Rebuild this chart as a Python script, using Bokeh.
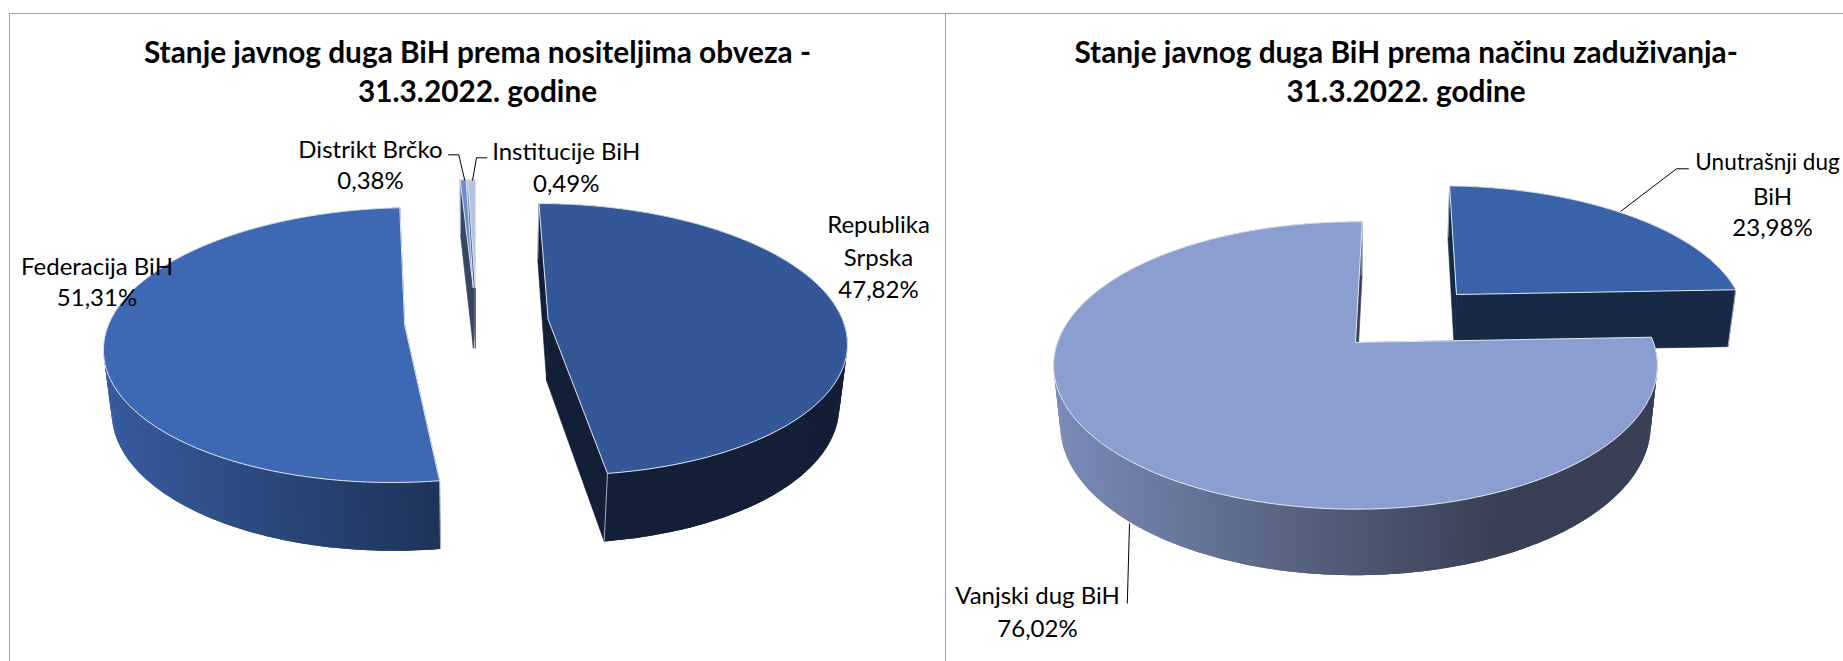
import math
from bokeh.plotting import figure
from bokeh.models import Range1d
from bokeh.core.properties import value
from bokeh.embed import file_html
from bokeh.resources import INLINE

# ---- data ----
title_left = ["Stanje javnog duga BiH prema nositeljima obveza -", "31.3.2022. godine"]
title_right = ["Stanje javnog duga BiH prema načinu zaduživanja-", "31.3.2022. godine"]
left_names = ["Republika Srpska", "Federacija BiH", "Distrikt Brčko", "Institucije BiH"]
left_values = [47.82, 51.31, 0.38, 0.49]
right_names = ["Unutrašnji dug BiH", "Vanjski dug BiH"]
right_values = [23.98, 76.02]

# ---- styles / layout ----
FONT = "Lato"
W, H = 1843, 661
left_colors = ["#345797", "#3e68b3", "#6d8cc9", "#b3c1e4"]
right_colors = ["#3a62a8", "#8c9ed0"]
left_explode = [0.244, 0.244, 0.26, 0.26]
right_explode = [0.51, 0.0]
# wall shading stops per slice: (x pixel, shade)
left_shade = [[(0, 0.36), (2000, 0.36)], [(109, 0.88), (438, 0.50)], [(0, 0.5), (2000, 0.5)], [(0, 0.5), (2000, 0.5)]]
right_shade = [[(0, 0.42), (2000, 0.42)], [(1056, 0.88), (1500, 0.41), (1653, 0.41)]]
left_cam = dict(cx=476, cy=321, b=295, a=133.5, k=0.148, m=0.022, D=63, rot=0.0)
right_cam = dict(cx=1355, cy=342, b=298, a=140, k=0.16, m=0.022, D=60.6, rot=1.5)

p = figure(width=W, height=H, output_backend="svg", toolbar_location=None,
           x_range=Range1d(0, W), y_range=Range1d(H, 0), min_border=0)
p.axis.visible = False
p.grid.visible = False
p.outline_line_color = None
p.background_fill_color = "#ffffff"


def shade_hex(color, s):
    r, g, b = int(color[1:3], 16), int(color[3:5], 16), int(color[5:7], 16)
    return "#%02x%02x%02x" % (int(r * s), int(g * s), int(b * s))


def shade_at(stops, x):
    if x <= stops[0][0]:
        return stops[0][1]
    for (x0, s0), (x1, s1) in zip(stops, stops[1:]):
        if x <= x1:
            return s0 + (s1 - s0) * (x - x0) / (x1 - x0)
    return stops[-1][1]


def draw_pie(values, colors, explode, shades, cam, order):
    def proj(X, V, Z=0.0):
        w = 1 + cam["k"] * V + cam["m"] * Z
        return cam["cx"] + cam["b"] * X / w, cam["cy"] - cam["a"] * V / w + cam["D"] * Z / w

    total = sum(values)
    starts, c = [], 0.0
    for v in values:
        starts.append(c)
        c += v
    for i in order:
        t0 = math.radians(starts[i] * 360 / total + cam["rot"])
        t1 = math.radians((starts[i] + values[i]) * 360 / total + cam["rot"])
        mid = (t0 + t1) / 2
        X0, V0 = explode[i] * math.sin(mid), explode[i] * math.cos(mid)
        n = max(3, int(math.degrees(t1 - t0)))
        ts = [t0 + (t1 - t0) * j / n for j in range(n + 1)]
        arc = [(X0 + math.sin(t), V0 + math.cos(t)) for t in ts]
        col = colors[i]

        # radial faces
        ax, ay = proj(X0, V0)
        bx, by = proj(X0, V0, 1)
        for (X, V) in (arc[0], arc[-1]):
            ex, ey = proj(X, V)
            fx, fy = proj(X, V, 1)
            s = shades[i][-1][1]
            c2 = shade_hex(col, s)
            p.patch([ax, ex, fx, bx], [ay, ey, fy, by], fill_color=c2, line_color=c2, line_width=0.6)
        # outer wall with shading; each quad overlaps the next to hide seams
        xs, ys, fc = [], [], []
        for j in range(len(arc) - 1):
            A = arc[j]
            B = arc[min(j + 2, len(arc) - 1)]
            C = arc[j + 1]
            x1, y1 = proj(*A)
            x2, y2 = proj(*C)
            bx2, by2 = proj(*B)
            x3, y3 = proj(*B, 1)
            xm, ym = proj(*C, 1)
            x4, y4 = proj(*A, 1)
            xs.append([x1, x2, bx2, x3, xm, x4])
            ys.append([y1, y2, by2, y3, ym, y4])
            fc.append(shade_hex(col, shade_at(shades[i], (x1 + x2) / 2)))
        p.patches(xs, ys, fill_color=fc, line_color=None)
        # pale corner lines
        for (X, V) in (arc[0], arc[-1]):
            ex, ey = proj(X, V)
            fx, fy = proj(X, V, 1)
            p.line([ex, fx], [ey, fy], line_color="#c9d2e6", line_width=0.8)
        # top face
        tx, ty = [ax], [ay]
        for (X, V) in arc:
            x, y = proj(X, V)
            tx.append(x)
            ty.append(y)
        p.patch(tx, ty, fill_color=col, line_color="#dfe6f3", line_width=1.0)


draw_pie(left_values, left_colors, left_explode, left_shade, left_cam, [3, 2, 0, 1])
draw_pie(right_values, right_colors, right_explode, right_shade, right_cam, [0, 1])

# frame lines
FRAME = "#a0a0a0"
p.line([9, 9], [661, 13], line_color=FRAME, line_width=1)
p.line([9, 1843], [13, 13], line_color=FRAME, line_width=1)
p.line([945, 945], [13, 661], line_color=FRAME, line_width=1)

# leader lines
leaders = [
    ([447.7, 458.3, 464.3], [154.3, 154.3, 180]),
    ([486.7, 476, 472], [157.3, 157.3, 180]),
    ([1620, 1676, 1688.3], [211, 168.3, 168.3]),
    ([1129, 1126.8], [523, 603]),
]
for lx, ly in leaders:
    p.line(lx, ly, line_color="#000000", line_width=1)


def label(x, y, txt, size, bold=False):
    p.text([x], [y], text=[txt], text_font=value(FONT), text_font_size=f"{size}px",
           text_font_style="bold" if bold else "normal", text_color="#000000",
           text_align="center", text_baseline="middle")


TS, LS = 29.8, 24
label(477, 51, title_left[0], TS, True)
label(477, 90, title_left[1], TS, True)
label(1405.6, 51, title_right[0], TS, True)
label(1405.6, 90, title_right[1], TS, True)

pct = lambda v: f"{v:.2f}%".replace(".", ",")
label(370, 147.5, left_names[2], LS)
label(370, 179, pct(left_values[2]), LS)
label(565.7, 150, left_names[3], LS)
label(565.7, 182, pct(left_values[3]), LS)
label(878, 223, "Republika", LS)
label(878, 256, "Srpska", LS)
label(878, 288, pct(left_values[0]), LS)
label(96.5, 265, left_names[1], LS)
label(96.5, 296, pct(left_values[1]), LS)
label(1767, 161, "Unutrašnji dug", 22.5)
label(1772, 195, "BiH", LS)
label(1772, 226, pct(right_values[0]), LS)
label(1037, 594, right_names[1], LS)
label(1037, 627, pct(right_values[1]), LS)

open("out.html", "w").write(file_html(p, INLINE))
